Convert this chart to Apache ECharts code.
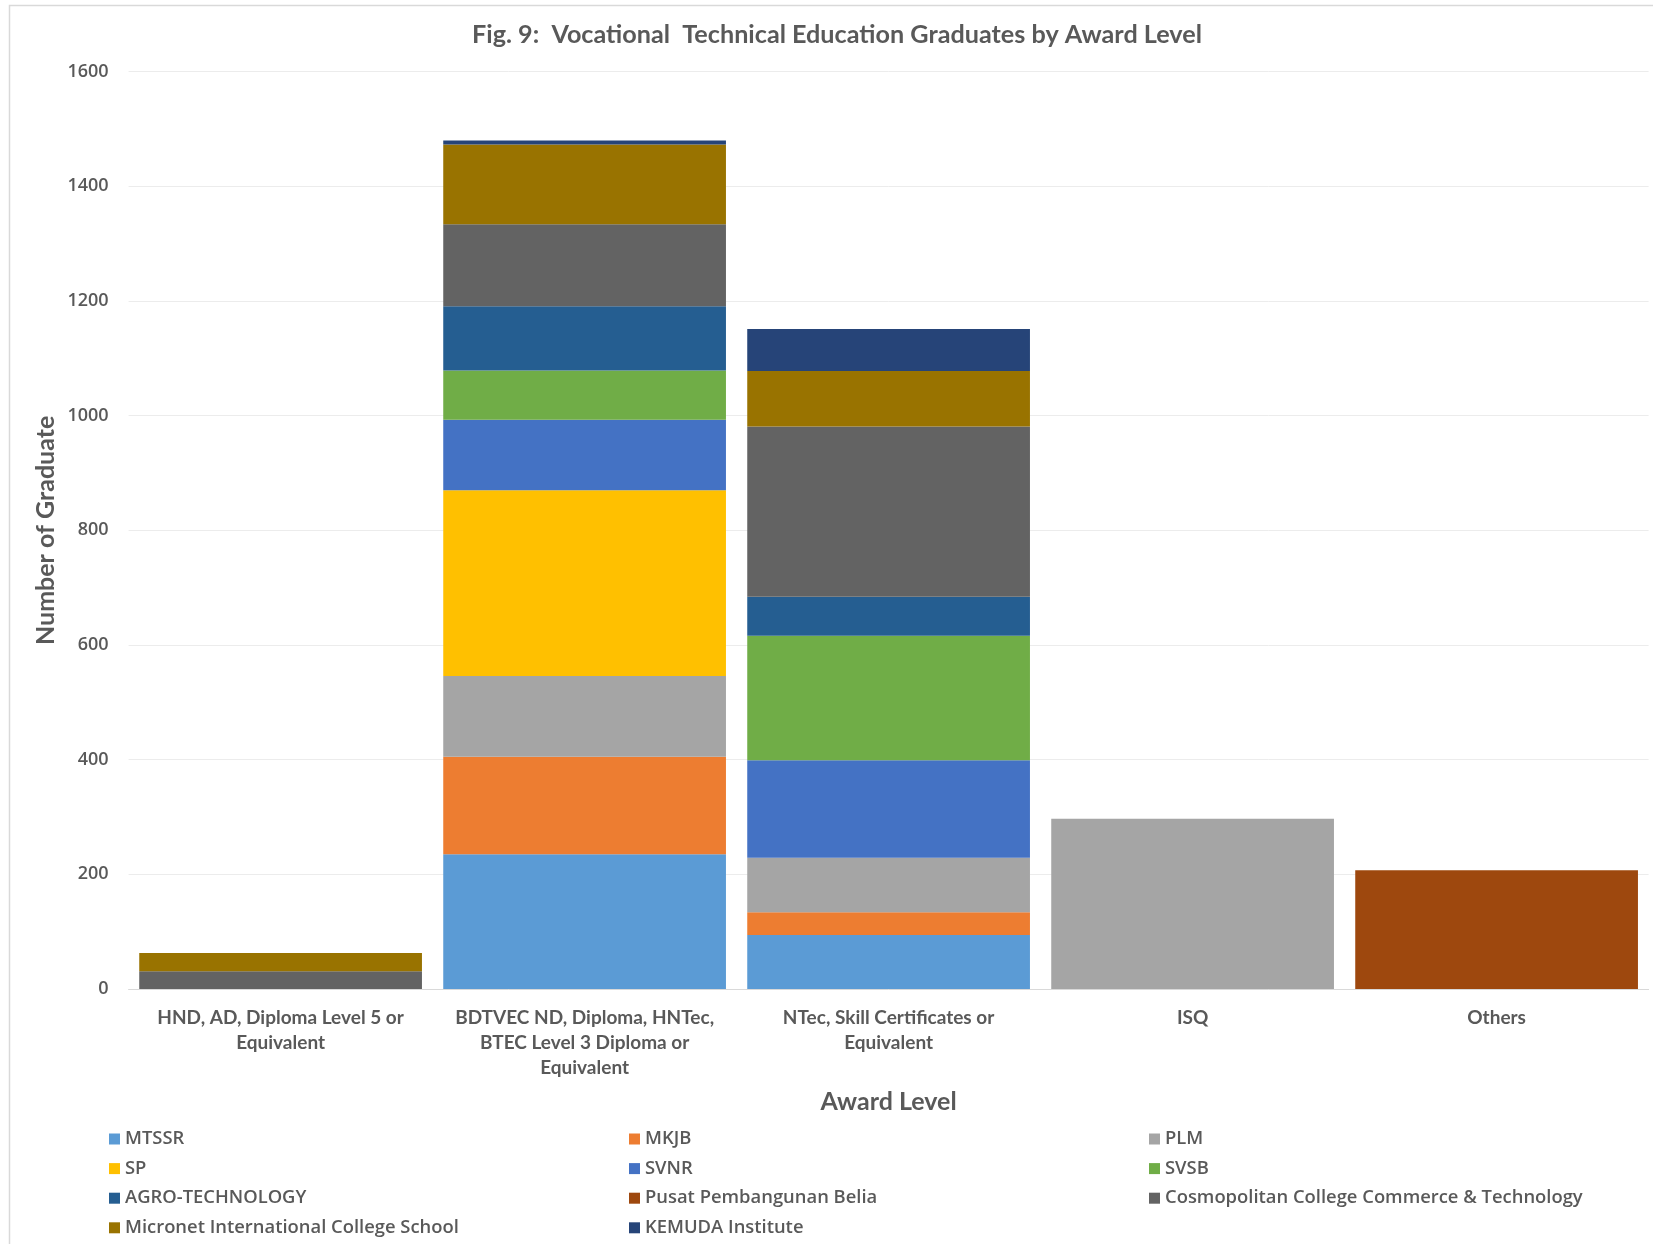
<!DOCTYPE html>
<html>
<head>
<meta charset="utf-8">
<script src="https://cdn.jsdelivr.net/npm/echarts@6/dist/echarts.min.js"></script>
<style>
html,body{margin:0;padding:0;background:#fff;}
#chart{width:1653px;height:1244px;}
</style>
</head>
<body>
<div id="chart"></div>
<script>
const categories = [
  'HND, AD, Diploma Level 5 or\nEquivalent',
  'BDTVEC ND, Diploma, HNTec,\nBTEC Level 3 Diploma or\nEquivalent',
  'NTec, Skill Certificates or\nEquivalent',
  'ISQ',
  'Others'
];
const yTicks = { min: 0, max: 1600, interval: 200 };

const MTSSR      = [0, 235, 94, 0, 0];
const MKJB       = [0, 170, 40, 0, 0];
const PLM        = [0, 141, 95, 297, 0];
const SP         = [0, 324, 0, 0, 0];
const SVNR       = [0, 123, 170, 0, 0];
const SVSB       = [0, 86, 217, 0, 0];
const AGRO       = [0, 112, 68, 0, 0];
const PUSAT      = [0, 0, 0, 0, 207];
const COSMO      = [31, 143, 297, 0, 0];
const MICRONET   = [32, 139, 97, 0, 0];
const KEMUDA     = [0, 7, 73, 0, 0];

const seriesDefs = [
  ['MTSSR', MTSSR, '#5B9BD5'],
  ['MKJB', MKJB, '#ED7D31'],
  ['PLM', PLM, '#A5A5A5'],
  ['SP', SP, '#FFC000'],
  ['SVNR', SVNR, '#4472C4'],
  ['SVSB', SVSB, '#70AD47'],
  ['AGRO-TECHNOLOGY', AGRO, '#255E91'],
  ['Pusat Pembangunan Belia', PUSAT, '#9E480E'],
  ['Cosmopolitan College Commerce & Technology', COSMO, '#636363'],
  ['Micronet International College School', MICRONET, '#997300'],
  ['KEMUDA Institute', KEMUDA, '#264478']
];

const legendCols = [
  ['MTSSR', 'SP', 'AGRO-TECHNOLOGY', 'Micronet International College School'],
  ['MKJB', 'SVNR', 'Pusat Pembangunan Belia', 'KEMUDA Institute'],
  ['PLM', 'SVSB', 'Cosmopolitan College Commerce & Technology']
];
const legendLeft = [109, 629, 1149];

const textColor = '#595959';
const chart = echarts.init(document.getElementById('chart'));

const option = {
  animation: false,
  backgroundColor: '#fff',
  graphic: [{
    type: 'rect',
    shape: { x: 9.5, y: 5.5, width: 1700, height: 1300 },
    style: { fill: 'none', stroke: '#D9D9D9', lineWidth: 1.5 },
    silent: true
  }],
  title: {
    text: 'Fig. 9:  Vocational  Technical Education Graduates by Award Level',
    left: 832,
    top: 17,
    textAlign: 'center',
    textStyle: { fontFamily: 'Lato', fontWeight: 'bold', fontSize: 25.2, color: textColor }
  },
  legend: legendCols.map((col, i) => ({
    data: col,
    orient: 'vertical',
    left: legendLeft[i],
    top: 1129,
    itemWidth: 11,
    itemHeight: 11,
    itemGap: 9.6,
    icon: 'rect',
    padding: 0,
    selectedMode: false,
    textStyle: { fontFamily: 'Open Sans', fontWeight: 600, fontSize: 18.4, color: textColor, lineHeight: 20 }
  })),
  grid: { left: 128.6, right: 4.4, top: 71.7, bottom: 255, containLabel: false },
  xAxis: {
    type: 'category',
    data: categories,
    name: 'Award Level',
    nameLocation: 'middle',
    nameGap: 100,
    nameMoveOverlap: false,
    nameTextStyle: { fontFamily: 'Lato', fontWeight: 'bold', fontSize: 25, color: textColor, verticalAlign: 'top' },
    axisTick: { show: false },
    axisLine: { show: true, lineStyle: { color: '#D9D9D9', width: 1 } },
    axisLabel: {
      interval: 0,
      margin: 16,
      fontFamily: 'Lato', fontWeight: 'bold', fontSize: 19, color: textColor,
      lineHeight: 25.3, verticalAlign: 'top'
    }
  },
  yAxis: {
    type: 'value',
    min: yTicks.min, max: yTicks.max, interval: yTicks.interval,
    name: 'Number of Graduate',
    nameLocation: 'middle',
    nameGap: 70,
    nameMoveOverlap: false,
    nameRotate: 90,
    nameTextStyle: { fontFamily: 'Lato', fontWeight: 'bold', fontSize: 25, color: textColor },
    axisLine: { show: false },
    axisTick: { show: false },
    splitLine: { lineStyle: { color: '#ECECEC', width: 1 } },
    axisLabel: {
      margin: 20, fontFamily: 'Open Sans', fontWeight: 600, fontSize: 18, color: textColor,
      formatter: v => String(v)
    }
  },
  series: seriesDefs.map(([name, vals, color]) => ({
    name, type: 'bar', stack: 'total', data: vals,
    barCategoryGap: '7%',
    itemStyle: { color },
    emphasis: { disabled: true }
  }))
};
chart.setOption(option);
</script>
</body>
</html>
